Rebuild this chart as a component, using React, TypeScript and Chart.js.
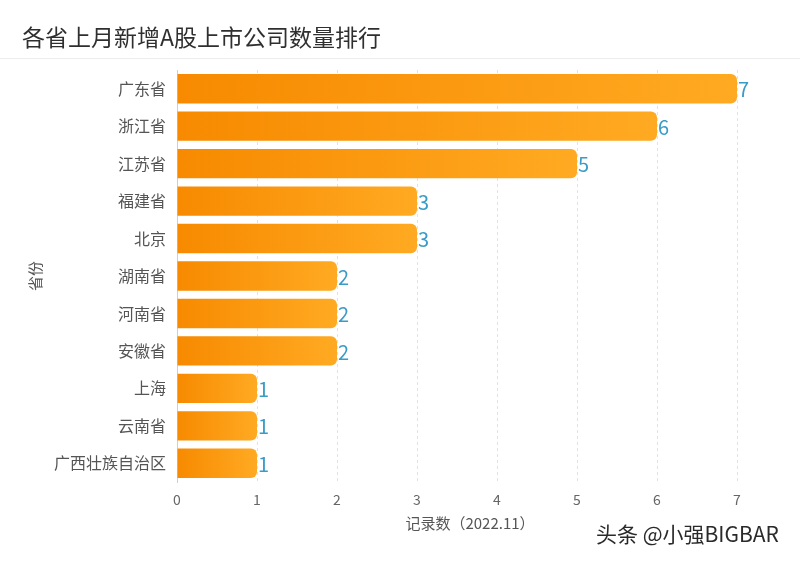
import React, { useEffect, useRef } from "react";
import { Chart, registerables } from "chart.js";

Chart.register(...registerables);

const TITLE = "各省上月新增A股上市公司数量排行";
const Y_TITLE = "省份";
const X_TITLE = "记录数（2022.11）";
const WATERMARK = "头条 @小强BIGBAR";
const provinces = ["广东省", "浙江省", "江苏省", "福建省", "北京", "湖南省", "河南省", "安徽省", "上海", "云南省", "广西壮族自治区"];
const counts = [7, 6, 5, 3, 3, 2, 2, 2, 1, 1, 1];

const FONT = "'Noto Sans CJK SC', 'Noto Sans', sans-serif";

const decorPlugin = {
  id: "decor",
  beforeDraw(chart: any) {
    const ctx = chart.ctx;
    ctx.save();
    ctx.fillStyle = "#ffffff";
    ctx.fillRect(0, 0, chart.width, chart.height);
    ctx.fillStyle = "#2f2f2f";
    ctx.font = `23px ${FONT}`;
    ctx.textBaseline = "middle";
    ctx.textAlign = "left";
    ctx.fillText(TITLE, 22, 37);
    ctx.strokeStyle = "#ececec";
    ctx.lineWidth = 1;
    ctx.beginPath();
    ctx.moveTo(0, 58.5);
    ctx.lineTo(chart.width, 58.5);
    ctx.stroke();
    ctx.restore();
  },
  afterDraw(chart: any) {
    const ctx = chart.ctx;
    ctx.save();
    ctx.fillStyle = "#555";
    ctx.font = `15px ${FONT}`;
    ctx.textAlign = "center";
    ctx.textBaseline = "middle";
    ctx.translate(35, 276);
    ctx.rotate(-Math.PI / 2);
    ctx.fillText(Y_TITLE, 0, 0);
    ctx.restore();
    ctx.save();
    ctx.fillStyle = "#555";
    ctx.font = `15px ${FONT}`;
    ctx.textAlign = "center";
    ctx.textBaseline = "middle";
    ctx.fillText(X_TITLE, 470, 523);
    ctx.fillStyle = "#2a2a2a";
    ctx.font = `21px ${FONT}`;
    ctx.textAlign = "left";
    ctx.fillText(WATERMARK, 596, 534);
    const meta = chart.getDatasetMeta(0);
    ctx.fillStyle = "#3a9cc6";
    ctx.font = `20px ${FONT}`;
    ctx.textAlign = "left";
    meta.data.forEach((bar: any, i: number) => {
      ctx.fillText(String(counts[i]), bar.x + 1, bar.y + 1);
    });
    ctx.restore();
  },
};

export default function App() {
  const ref = useRef<HTMLCanvasElement>(null);
  useEffect(() => {
    document.body.style.margin = "0";
    const chart = new Chart(ref.current!, {
      type: "bar",
      data: {
        labels: provinces,
        datasets: [
          {
            data: counts,
            backgroundColor: (c: any) => {
              const ch = c.chart;
              const area = ch.chartArea;
              if (!area) return "#f99a10";
              const v = c.raw ?? 1;
              const x0 = ch.scales.x.getPixelForValue(0);
              const x1 = ch.scales.x.getPixelForValue(v);
              const g = ch.ctx.createLinearGradient(x0, 0, x1, 0);
              g.addColorStop(0, "#f78a00");
              g.addColorStop(1, "#ffaa22");
              return g;
            },
            borderRadius: 6,
            borderSkipped: "start",
            categoryPercentage: 0.8,
            barPercentage: 0.98,
          },
        ],
      },
      options: {
        indexAxis: "y",
        animation: false,
        responsive: false,
        layout: { padding: { left: 0, right: 63, top: 70, bottom: 0 } },
        plugins: { legend: { display: false }, tooltip: { enabled: false } },
        scales: {
          x: {
            min: 0,
            max: 7,
            ticks: { stepSize: 1, color: "#666", font: { family: FONT, size: 14 }, padding: 9 },
            grid: { color: "#e2e2e2", drawTicks: false, lineWidth: 1 },
            border: { display: false, dash: [3, 3] },
            afterFit: (s: any) => {
              s.height = 79;
            },
          },
          y: {
            ticks: { color: "#555", font: { family: FONT, size: 16 }, padding: 11 },
            grid: { display: false, drawTicks: false, tickLength: 0 },
            border: { display: true, color: "#cfcfcf" },
            afterFit: (s: any) => {
              s.width = 177;
            },
          },
        },
      },
      plugins: [decorPlugin],
    } as any);
    return () => chart.destroy();
  }, []);
  return <canvas ref={ref} width={800} height={561} style={{ display: "block" }} />;
}
